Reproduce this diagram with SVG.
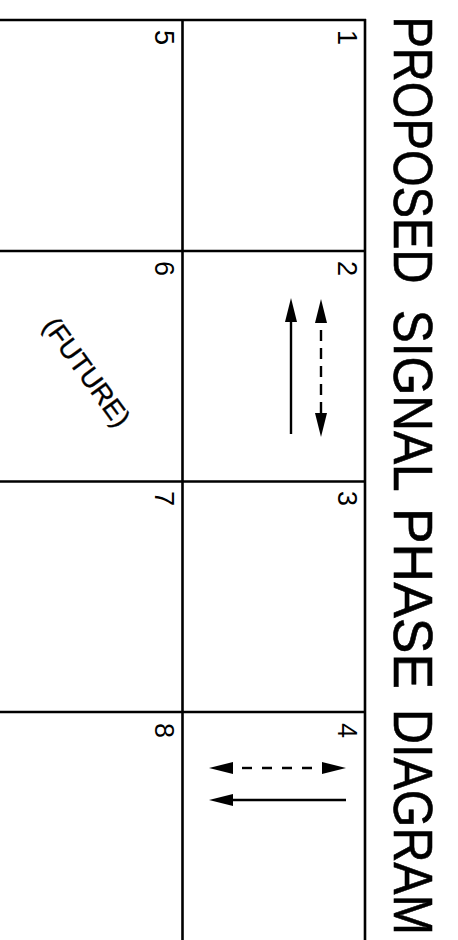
<svg xmlns="http://www.w3.org/2000/svg" width="458" height="940" viewBox="0 0 458 940">
<style>
.grid{stroke:#000;stroke-width:2.6;fill:none}
.t{font-family:"Liberation Sans",Arial,sans-serif;fill:#000}
.title{font-size:56px;stroke:#000;stroke-width:0.6}
.num{font-size:27px}
.fut{font-size:27px;stroke:#000;stroke-width:0.4}
.arr{stroke:#000;stroke-width:2.4;fill:none}
.dash{stroke-dasharray:11 7;stroke-dashoffset:11}
.dash2{stroke-dasharray:10 10;stroke-dashoffset:11}
</style>
<defs>
<marker id="ah" viewBox="0 0 24 12" refX="0" refY="6" markerWidth="24" markerHeight="12" markerUnits="userSpaceOnUse" orient="auto-start-reverse">
<path d="M0,0 L24,6 L0,12 Z" fill="#000"/>
</marker>
</defs>
<rect width="458" height="940" fill="#fff"/>
<g id="title">
<text class="t title" transform="matrix(0 1 -1 0 393.5 16.4)" textLength="267" lengthAdjust="spacingAndGlyphs">PROPOSED</text>
<text class="t title" transform="matrix(0 1 -1 0 393.5 309.7)" textLength="182" lengthAdjust="spacingAndGlyphs">SIGNAL</text>
<text class="t title" transform="matrix(0 1 -1 0 393.5 508)" textLength="181" lengthAdjust="spacingAndGlyphs">PHASE</text>
<text class="t title" transform="matrix(0 1 -1 0 393.5 709)" textLength="226" lengthAdjust="spacingAndGlyphs">DIAGRAM</text>
</g>
<g id="grid" class="grid">
<line x1="0" y1="20" x2="366" y2="20"/>
<line x1="0" y1="251" x2="366" y2="251"/>
<line x1="0" y1="481.5" x2="366" y2="481.5"/>
<line x1="0" y1="712" x2="366" y2="712"/>
<line x1="182.5" y1="19" x2="182.5" y2="940"/>
<line x1="365" y1="19" x2="365" y2="940"/>
</g>
<g id="phase-1"><text class="t num" transform="matrix(0 1 -1 0 338 30)">1</text></g>
<g id="phase-2"><text class="t num" transform="matrix(0 1 -1 0 338 261)">2</text></g>
<g id="phase-3"><text class="t num" transform="matrix(0 1 -1 0 338 491)">3</text></g>
<g id="phase-4"><text class="t num" transform="matrix(0 1 -1 0 338 723)">4</text></g>
<g id="phase-5"><text class="t num" transform="matrix(0 1 -1 0 155 30)">5</text></g>
<g id="phase-6"><text class="t num" transform="matrix(0 1 -1 0 155 261)">6</text>
<text class="t fut" text-anchor="middle" y="9.5" transform="translate(87 372) rotate(54)">(FUTURE)</text></g>
<g id="phase-7"><text class="t num" transform="matrix(0 1 -1 0 155 491)">7</text></g>
<g id="phase-8"><text class="t num" transform="matrix(0 1 -1 0 155 723)">8</text></g>
<g id="connectors">
<line class="arr" x1="291" y1="434" x2="291" y2="322" marker-end="url(#ah)"/>
<line class="arr dash" x1="321" y1="323" x2="321" y2="413" marker-start="url(#ah)" marker-end="url(#ah)"/>
<line class="arr dash2" x1="233" y1="768" x2="322" y2="768" marker-start="url(#ah)" marker-end="url(#ah)"/>
<line class="arr" x1="346" y1="800" x2="233" y2="800" marker-end="url(#ah)"/>
</g>
</svg>
